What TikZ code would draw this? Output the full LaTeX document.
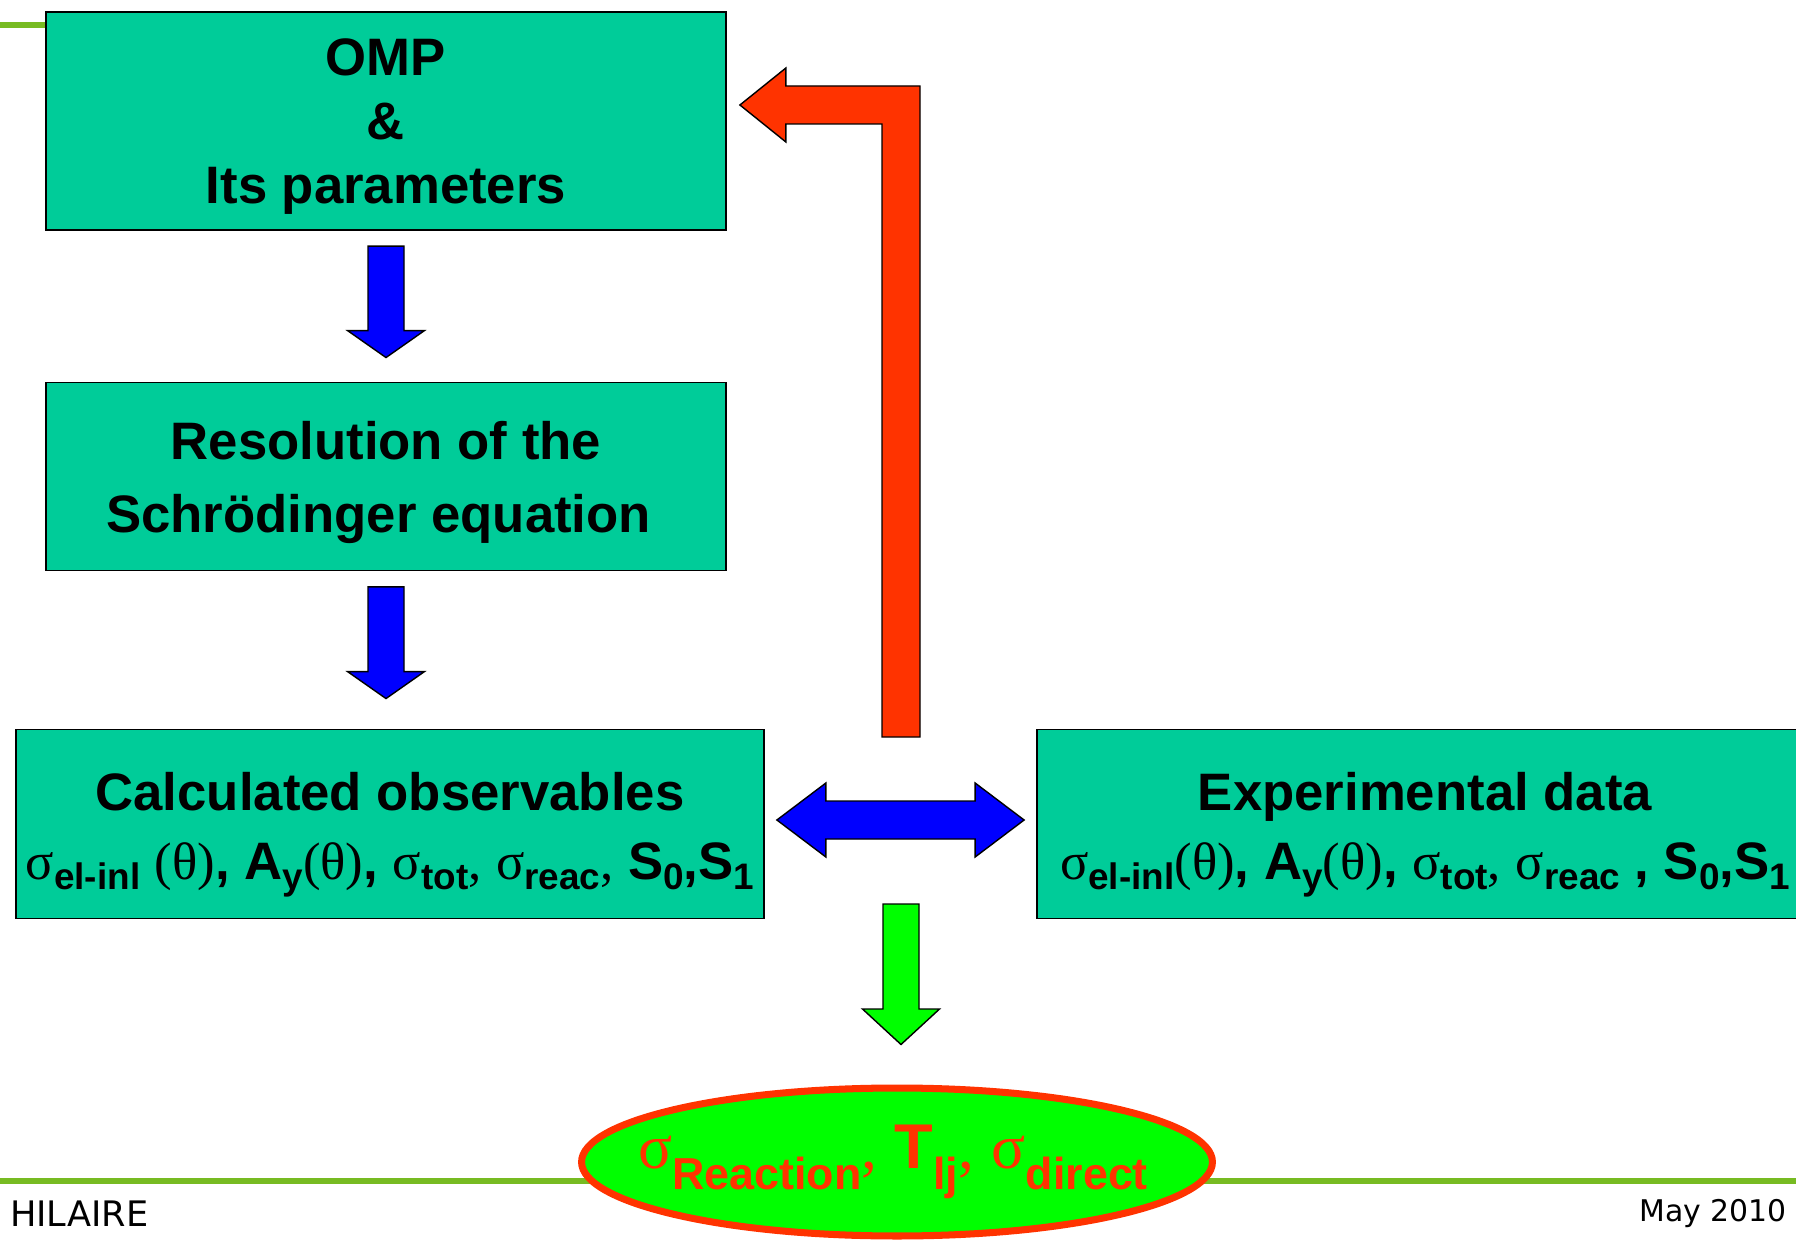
\documentclass[tikz,border=0pt]{standalone}
\usepackage{fontspec}
\setmainfont{Liberation Sans}
\newfontfamily\serf{Liberation Serif}
\newfontfamily\footf{DejaVu Sans}
\usetikzlibrary{shapes.geometric,calc}

\definecolor{boxgreen}{HTML}{00CC99}
\definecolor{arrowred}{HTML}{FF3300}
\definecolor{arrowblue}{HTML}{0000FF}
\definecolor{brightgreen}{HTML}{00FF00}
\definecolor{linegreen}{RGB}{119,187,34}

\newcommand{\sg}{{\serf\mdseries σ}}
\newcommand{\tht}{{\serf\mdseries(θ)}}
\newcommand{\cm}{{\serf\mdseries,}}
\newcommand{\lowsub}[3]{\raisebox{-#1}{\fontsize{#2}{#2}\selectfont #3}}
\newcommand{\sbs}[1]{\lowsub{6pt}{21}{#1}}
\newcommand{\blockdown}[4]{%
  \filldraw[blockline, fill=#3] ($#1+(-18,0)$) -- ($#1+(18,0)$) -- ($#2+(18,-#4)$)
    -- ($#2+(38.5,-#4)$) -- #2 -- ($#2+(-38.5,-#4)$) -- ($#2+(-18,-#4)$) -- cycle;}

\tikzset{
  stepbox/.style={draw=black, line width=1.1pt, fill=boxgreen, inner sep=0pt},
  boxtext/.style={align=center, inner sep=0pt, font=\fontsize{30}{39}\selectfont\bfseries},
  blockline/.style={draw=black, line width=0.8pt, line join=miter},
}

\begin{document}
\begin{tikzpicture}[x=0.02cm, y=-0.02cm]
\useasboundingbox (0,0) rectangle (1796,1240);
\clip (0,0) rectangle (1796,1240);
\fill[white] (0,0) rectangle (1796,1240);

%% slide rules
\draw[linegreen, line width=2.9pt] (0,25) -- (46,25);
\draw[linegreen, line width=2.9pt] (0,1181) -- (1796,1181);

\node[stepbox, minimum width=13.6cm, minimum height=4.37cm] (omp) at (386,121) {};
\node[boxtext, font=\fontsize{30}{36.4}\selectfont\bfseries] (omptext) at ($(omp)+(0,6)$) {OMP\\\&\\Its parameters};
\node[stepbox, minimum width=13.6cm, minimum height=3.76cm] (res) at (386,476.5) {};
\node[boxtext, font=\fontsize{30}{41.5}\selectfont\bfseries] (restext) at ($(res)+(0,6)$)
  {Resolution of the\\Schrödinger equation\hspace*{0.28em}};
\node[stepbox, minimum width=14.96cm, minimum height=3.78cm] (calcobs) at (390,824) {};
\node[boxtext] (calctext) at ($(calcobs)+(0,11)$)
  {Calculated observables\\\sg\sbs{el-inl} \tht, A\sbs{y}\tht, \sg\sbs{tot}\cm\ \sg\sbs{reac}\cm\ S\sbs{0},S\sbs{1}};
\node[stepbox, minimum width=15.52cm, minimum height=3.78cm] (expdata) at (1425,824) {};
\node[boxtext] (exptext) at ($(expdata)+(0,11)$)
  {Experimental data\\\sg\sbs{el-inl}\tht, A\sbs{y}\tht, \sg\sbs{tot}\cm\ \sg\sbs{reac} , S\sbs{0},S\sbs{1}};

%% down arrows
\coordinate (b1top) at ($(omp.south)+(0,15)$);
\coordinate (b1tip) at ($(res.north)+(0,-24)$);
\blockdown{(b1top)}{(b1tip)}{arrowblue}{27}
\coordinate (b2top) at ($(res.south)+(0,15.5)$);
\coordinate (b2tip) at ($(b2top|-calcobs.north)+(0,-30)$);
\blockdown{(b2top)}{(b2tip)}{arrowblue}{27}

%% compare
\coordinate (dl) at ($(calcobs.east)+(12,-4)$);
\coordinate (dr) at ($(expdata.west)+(-12,-4)$);
\filldraw[blockline, fill=arrowblue] (dl) -- ($(dl)+(49,-37)$) -- ($(dl)+(49,-19)$) -- ($(dr)+(-49,-19)$)
  -- ($(dr)+(-49,-37)$) -- (dr) -- ($(dr)+(-49,37)$) -- ($(dr)+(-49,19)$) -- ($(dl)+(49,19)$)
  -- ($(dl)+(49,37)$) -- cycle;

%% feedback to the OMP
\coordinate (rtip) at ($(omp.east)+(13,-16)$);
\coordinate (rfoot) at (901,737);
\filldraw[blockline, fill=arrowred] ($(rfoot)+(-19,0)$) -- ($(rfoot)+(19,0)$) -- ($(rfoot|-rtip)+(19,-19)$)
  -- ($(rtip)+(46,-19)$) -- ($(rtip)+(46,-37)$) -- (rtip) -- ($(rtip)+(46,37)$) -- ($(rtip)+(46,19)$)
  -- ($(rfoot|-rtip)+(-19,19)$) -- cycle;

\node[ellipse, draw=arrowred, line width=4pt, fill=brightgreen, minimum width=12.62cm, minimum height=2.96cm,
  inner sep=0pt] (react) at (897,1162) {};
\node[text=arrowred, inner sep=0pt, font=\fontsize{36}{36}\selectfont\bfseries] (reacttext) at ($(react)+(-4,0)$)
  {\sg\lowsub{12pt}{25.5}{Reaction}\cm\ T\lowsub{12pt}{25.5}{lj}\cm\ \sg\lowsub{12pt}{25.5}{direct}};

\coordinate (gtop) at (901,904);
\coordinate (gtip) at ($(gtop|-react.north)+(0,-40)$);
\blockdown{(gtop)}{(gtip)}{brightgreen}{35.5}

\node[anchor=west, font=\footf\fontsize{20}{20}\selectfont] (author) at (4,1214) {HILAIRE};
\node[anchor=east, font=\footf\fontsize{17}{17}\selectfont] (date) at (1793,1214) {May 2010};
\end{tikzpicture}
\end{document}
